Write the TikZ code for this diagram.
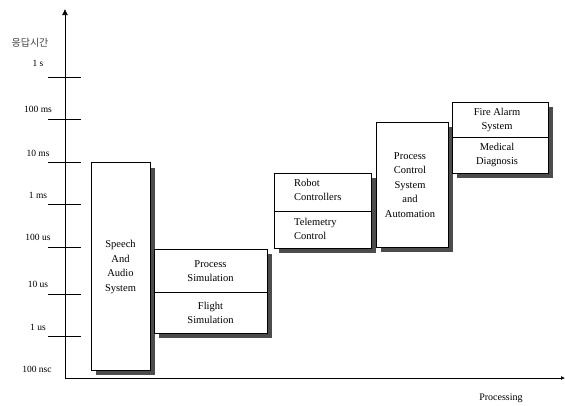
\documentclass[tikz,border=0pt]{standalone}
\usepackage{fontspec}
\setmainfont{Liberation Serif}
\newfontfamily\krfont{Noto Sans CJK KR}
\usetikzlibrary{arrows.meta}
\tikzset{
  boxnode/.style={draw, line width=0.6pt, fill=white, inner sep=0pt, anchor=north west},
  shadowfill/.style={fill=black!70},
  boxtext/.style={align=center, inner sep=0pt, font=\fontsize{10.5}{14.5}\selectfont},
  ticklab/.style={inner sep=0pt, font=\fontsize{9.5}{11}\selectfont},
  tickline/.style={line width=0.6pt},
  axisline/.style={line width=0.7pt}
}
\begin{document}
\begin{tikzpicture}[x=1pt,y=-1pt]
\useasboundingbox (0,0) rectangle (565,405);
% axes
\coordinate (orig) at (65,378);
\coordinate (ytop) at (65,9);
\coordinate (xend) at (565,378);
\draw[axisline,-{Latex[length=6pt,width=6pt]}] (orig) -- (ytop);
\draw[axisline,-{Latex[length=4pt,width=4pt]}] (orig) -- (xend);
\node[inner sep=0pt, font=\krfont\fontsize{10}{12}\selectfont, text=black!75] (ylab) at (30,43) {응답시간};
\node[inner sep=0pt, font=\fontsize{10}{12}\selectfont] (xlab) at (501,398) {Processing};
% ticks and labels
\foreach \yy/\lab/\ly [count=\i] in {77/1 s/63, 119/100 ms/109, 162/10 ms/153, 204/1 ms/195, 247/100 us/237, 294/10 us/284, 336/1 us/327}{
  \draw[tickline] (48,\yy) -- (81,\yy);
  \node[ticklab] (t\i) at (38,\ly) {\lab};
}
\node[ticklab] (t8) at (37,369) {100 nsc};
% Speech box
\fill[shadowfill] (96,168) rectangle (155,375);
\node[boxnode, minimum width=59pt, minimum height=208pt] (speech) at (91,162) {};
\node[boxtext] (speechtxt) at (120.5,267) {Speech\\And\\Audio\\System};
% Simulation box
\fill[shadowfill] (159,254) rectangle (272,338);
\node[boxnode, minimum width=113pt, minimum height=84pt] (sim) at (154,249) {};
\draw[line width=0.6pt] (154,292) -- (267,292);
\node[boxtext] (simtop) at (210.5,271) {Process\\Simulation};
\node[boxtext] (simbot) at (210.5,313) {Flight\\Simulation};
% Robot box
\fill[shadowfill] (279,178) rectangle (376,253);
\node[boxnode, minimum width=97pt, minimum height=75pt] (robot) at (274,173) {};
\draw[line width=0.6pt] (274,211) -- (371,211);
\node[boxtext, align=left, anchor=west] (robottop) at (294,190) {Robot\\Controllers};
\node[boxtext, align=left, anchor=west] (robotbot) at (294,229) {Telemetry\\Control};
% Process control box
\fill[shadowfill] (381,127) rectangle (453,252);
\node[boxnode, minimum width=72pt, minimum height=125pt] (pcs) at (376,122) {};
\node[boxtext] (pcstxt) at (410,185) {Process\\Control\\System\\and\\Automation};
% Fire alarm box
\fill[shadowfill] (457,107) rectangle (553,178);
\node[boxnode, minimum width=96pt, minimum height=71pt] (fire) at (452,102) {};
\draw[line width=0.6pt] (452,137) -- (548,137);
\node[boxtext] (firetop) at (497,120) {Fire Alarm\\System};
\node[boxtext] (firebot) at (497,155) {Medical\\Diagnosis};
\end{tikzpicture}
\end{document}
